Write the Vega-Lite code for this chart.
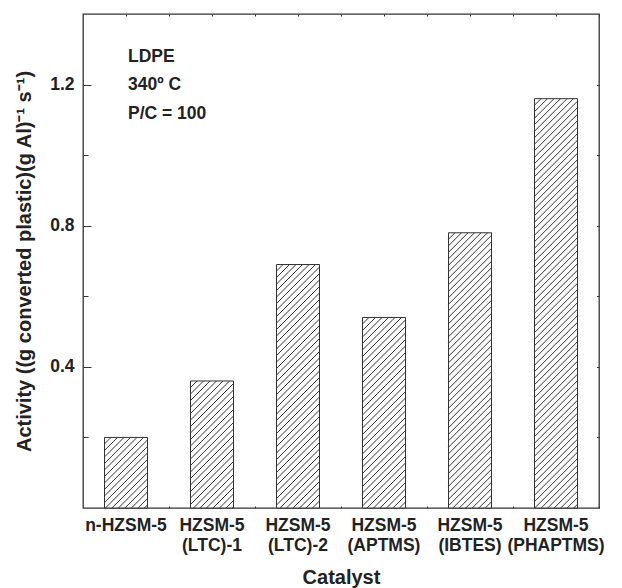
{
  "$schema": "https://vega.github.io/schema/vega-lite/v6.json",
  "width": 516,
  "height": 494,
  "autosize": {"type": "none"},
  "padding": {"left": 83, "top": 14, "right": 23, "bottom": 80},
  "background": "white",
  "config": {
    "view": {"stroke": "#333333", "strokeWidth": 1.3},
    "axis": {
      "domain": false,
      "grid": false,
      "labelFont": "Liberation Sans",
      "labelFontWeight": "bold",
      "labelColor": "#222222",
      "titleFont": "Liberation Sans",
      "titleFontWeight": "bold",
      "titleColor": "#222222",
      "tickColor": "#333333",
      "tickWidth": 1
    }
  },
  "datasets": {
    "bars": [
      {"Catalyst": "n-HZSM-5", "Activity": 0.20},
      {"Catalyst": "HZSM-5 (LTC)-1", "Activity": 0.36},
      {"Catalyst": "HZSM-5 (LTC)-2", "Activity": 0.69},
      {"Catalyst": "HZSM-5 (APTMS)", "Activity": 0.54},
      {"Catalyst": "HZSM-5 (IBTES)", "Activity": 0.78},
      {"Catalyst": "HZSM-5 (PHAPTMS)", "Activity": 1.16}
    ],
    "notes": [
      {"note": "LDPE", "Catalyst": "n-HZSM-5", "Activity": 1.265},
      {"note": "340º C", "Catalyst": "n-HZSM-5", "Activity": 1.185},
      {"note": "P/C = 100", "Catalyst": "n-HZSM-5", "Activity": 1.103}
    ]
  },
  "resolve": {"axis": {"x": "independent", "y": "independent"}},
  "layer": [
    {
      "data": {"name": "bars"},
      "mark": {"type": "bar", "fill": "white", "stroke": "#333333", "strokeWidth": 1},
      "encoding": {
        "x": {
          "field": "Catalyst", "type": "nominal",
          "scale": {"domain": ["n-HZSM-5", "HZSM-5 (LTC)-1", "HZSM-5 (LTC)-2", "HZSM-5 (APTMS)", "HZSM-5 (IBTES)", "HZSM-5 (PHAPTMS)"], "paddingInner": 0.5, "paddingOuter": 0.25},
          "axis": {
            "orient": "bottom", "title": "Catalyst", "titleFontSize": 20, "titlePadding": 14,
            "labelFontSize": 17.5, "labelAngle": 0, "labelExpr": "split(datum.label, ' ')",
            "labelLineHeight": 20, "labelBaseline": "top", "labelOverlap": false,
            "tickSize": -2, "labelPadding": 10
          }
        },
        "y": {
          "field": "Activity", "type": "quantitative",
          "scale": {"domain": [0, 1.4], "nice": false, "zero": true},
          "axis": {
            "orient": "left", "values": [0.4, 0.8, 1.2], "format": ".1f",
            "tickSize": -8, "labelPadding": 17, "labelFontSize": 17.5,
            "title": "Activity ((g converted plastic)(g Al)⁻¹ s⁻¹)", "titleFontSize": 20, "titlePadding": 15
          }
        }
      }
    },
    {
      "data": {"name": "bars"},
      "mark": {
        "type": "point", "filled": false, "size": 4, "opacity": 1, "clip": true,
        "stroke": "#333333", "strokeWidth": 1,
        "shape": "M-21.5 6.5 l6.5 -6.5 M-21.5 13 l13 -13 M-21.5 19.5 l19.5 -19.5 M-21.5 26 l26 -26 M-21.5 32.5 l32.5 -32.5 M-21.5 39 l39 -39 M-21.5 45.5 l43 -43 M-21.5 52 l43 -43 M-21.5 58.5 l43 -43 M-21.5 65 l43 -43 M-21.5 71.5 l43 -43 M-21.5 78 l43 -43 M-21.5 84.5 l43 -43 M-21.5 91 l43 -43 M-21.5 97.5 l43 -43 M-21.5 104 l43 -43 M-21.5 110.5 l43 -43 M-21.5 117 l43 -43 M-21.5 123.5 l43 -43 M-21.5 130 l43 -43 M-21.5 136.5 l43 -43 M-21.5 143 l43 -43 M-21.5 149.5 l43 -43 M-21.5 156 l43 -43 M-21.5 162.5 l43 -43 M-21.5 169 l43 -43 M-21.5 175.5 l43 -43 M-21.5 182 l43 -43 M-21.5 188.5 l43 -43 M-21.5 195 l43 -43 M-21.5 201.5 l43 -43 M-21.5 208 l43 -43 M-21.5 214.5 l43 -43 M-21.5 221 l43 -43 M-21.5 227.5 l43 -43 M-21.5 234 l43 -43 M-21.5 240.5 l43 -43 M-21.5 247 l43 -43 M-21.5 253.5 l43 -43 M-21.5 260 l43 -43 M-21.5 266.5 l43 -43 M-21.5 273 l43 -43 M-21.5 279.5 l43 -43 M-21.5 286 l43 -43 M-21.5 292.5 l43 -43 M-21.5 299 l43 -43 M-21.5 305.5 l43 -43 M-21.5 312 l43 -43 M-21.5 318.5 l43 -43 M-21.5 325 l43 -43 M-21.5 331.5 l43 -43 M-21.5 338 l43 -43 M-21.5 344.5 l43 -43 M-21.5 351 l43 -43 M-21.5 357.5 l43 -43 M-21.5 364 l43 -43 M-21.5 370.5 l43 -43 M-21.5 377 l43 -43 M-21.5 383.5 l43 -43 M-21.5 390 l43 -43 M-21.5 396.5 l43 -43 M-21.5 403 l43 -43 M-21.5 409.5 l43 -43 M-21.5 416 l43 -43 M-21.5 422.5 l43 -43 M-21.5 429 l43 -43 M-21.5 435.5 l43 -43 M-21.5 442 l43 -43 M-21.5 448.5 l43 -43 M-21.5 455 l43 -43"
      },
      "encoding": {
        "x": {
          "field": "Catalyst", "type": "nominal",
          "scale": {"domain": ["n-HZSM-5", "HZSM-5 (LTC)-1", "HZSM-5 (LTC)-2", "HZSM-5 (APTMS)", "HZSM-5 (IBTES)", "HZSM-5 (PHAPTMS)"], "paddingInner": 0.5, "paddingOuter": 0.25},
          "axis": {"orient": "top", "labels": false, "tickSize": -2, "title": null}
        },
        "y": {
          "field": "Activity", "type": "quantitative",
          "scale": {"domain": [0, 1.4], "nice": false, "zero": true},
          "axis": {"orient": "right", "values": [0.2, 0.4, 0.6, 0.8, 1.0, 1.2], "labels": false, "tickSize": -2.5, "title": null}
        }
      }
    },
    {
      "data": {"name": "notes"},
      "mark": {"type": "text", "align": "left", "baseline": "alphabetic", "dx": 2, "font": "Liberation Sans", "fontSize": 17.5, "fontWeight": "bold", "color": "#222222"},
      "encoding": {
        "x": {
          "field": "Catalyst", "type": "nominal",
          "scale": {"domain": ["n-HZSM-5", "HZSM-5 (LTC)-1", "HZSM-5 (LTC)-2", "HZSM-5 (APTMS)", "HZSM-5 (IBTES)", "HZSM-5 (PHAPTMS)"], "paddingInner": 0.5, "paddingOuter": 0.25},
          "axis": {"orient": "bottom", "bandPosition": 1.5, "labels": false, "tickSize": -2, "title": null}
        },
        "y": {
          "field": "Activity", "type": "quantitative",
          "scale": {"domain": [0, 1.4], "nice": false, "zero": true},
          "axis": {"orient": "left", "values": [0.2, 0.6, 1.0], "labels": false, "tickSize": -5, "title": null}
        },
        "text": {"field": "note", "type": "nominal"}
      }
    },
    {
      "data": {"name": "bars"},
      "mark": {"type": "point", "opacity": 0},
      "encoding": {
        "x": {
          "field": "Catalyst", "type": "nominal",
          "scale": {"domain": ["n-HZSM-5", "HZSM-5 (LTC)-1", "HZSM-5 (LTC)-2", "HZSM-5 (APTMS)", "HZSM-5 (IBTES)", "HZSM-5 (PHAPTMS)"], "paddingInner": 0.5, "paddingOuter": 0.25},
          "axis": {"orient": "top", "bandPosition": 1.5, "labels": false, "tickSize": -2, "title": null}
        },
        "y": {
          "field": "Activity", "type": "quantitative",
          "scale": {"domain": [0, 1.4], "nice": false, "zero": true},
          "axis": null
        }
      }
    }
  ]
}
